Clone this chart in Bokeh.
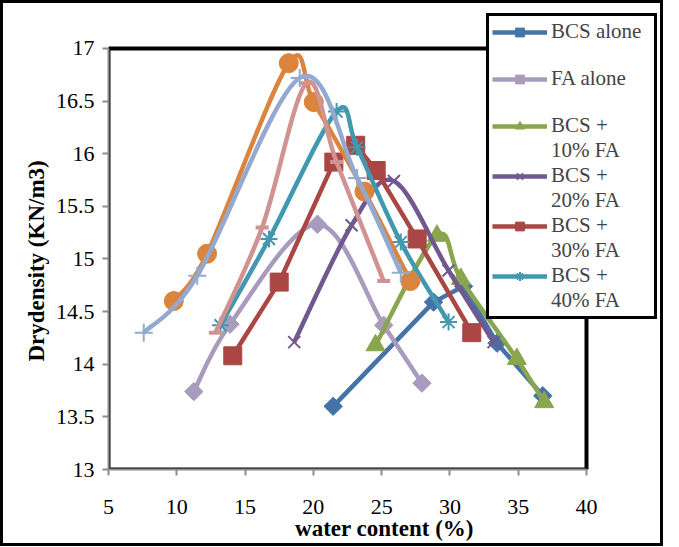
import numpy as np
from bokeh.plotting import figure
from bokeh.models import Range1d, FixedTicker, NumeralTickFormatter, Legend, LegendItem, Title
from bokeh.layouts import column
from bokeh.embed import file_html
from bokeh.resources import INLINE

# ---------------- data ----------------
x_ticks = [5, 10, 15, 20, 25, 30, 35, 40]
y_ticks = [13, 13.5, 14, 14.5, 15, 15.5, 16, 16.5, 17]

bcs_alone_w = [21.45, 28.8, 31.0, 33.45, 36.8]
bcs_alone_d = [13.60, 14.59, 14.74, 14.20, 13.70]

fa_alone_w = [11.25, 13.9, 20.3, 25.15, 27.95]
fa_alone_d = [13.74, 14.38, 15.33, 14.37, 13.82]

fa10_w = [24.55, 29.05, 30.8, 34.9, 36.9]
fa10_d = [14.18, 15.22, 14.81, 14.05, 13.64]

fa20_w = [18.6, 22.8, 25.9, 29.9, 33.2]
fa20_d = [14.21, 15.32, 15.74, 14.89, 14.21]

fa30_w = [14.1, 17.5, 21.5, 23.1, 24.6, 27.6, 31.6]
fa30_d = [14.08, 14.78, 15.92, 16.08, 15.84, 15.19, 14.30]

fa40_w = [13.2, 16.75, 21.7, 23.2, 26.4, 29.9]
fa40_d = [14.37, 15.19, 16.40, 16.06, 15.16, 14.40]

s7_w = [9.78, 12.22, 18.2, 20.03, 23.74, 27.1]
s7_d = [14.60, 15.05, 16.86, 16.49, 15.64, 14.79]

s8_w = [12.83, 16.25, 19.5, 21.7, 25.15]
s8_d = [14.30, 15.30, 16.67, 15.92, 14.79]

s9_w = [7.58, 11.5, 19.0, 23.2, 26.4]
s9_d = [14.30, 14.84, 16.72, 15.77, 14.87]

legend_lines = [["BCS alone", " "], ["FA alone", " "], ["BCS +", "10% FA"],
                ["BCS +", "20% FA"], ["BCS +", "30% FA"], ["BCS +", "40% FA"]]

FONT = "Liberation Serif"

# ---------------- layout (pixels) ----------------
W, H = 657, 540
BL, BR, BT, BB = 105, 0, 7, 73          # borders around the frame
FRAME_W, FRAME_H = W - BL - BR, H - BT - BB
PLOT_W, PLOT_H = 478, 422                # pixel size of the 5..40 x 13..17 box

x0, x1 = x_ticks[0], x_ticks[-1]
y0, y1 = y_ticks[0], y_ticks[-1]
x_end = x0 + FRAME_W * (x1 - x0) / PLOT_W
y_end = y0 + FRAME_H * (y1 - y0) / PLOT_H

p = figure(width=W, height=H, x_range=Range1d(x0, x_end), y_range=Range1d(y0, y_end),
           output_backend="svg", toolbar_location=None,
           min_border_left=BL, min_border_right=BR, min_border_top=BT, min_border_bottom=BB)
p.xgrid.visible = False
p.ygrid.visible = False
p.background_fill_color = "white"
p.border_fill_color = "white"
p.outline_line_color = None

for ax, ticks in ((p.xaxis, x_ticks), (p.yaxis, y_ticks)):
    ax.ticker = FixedTicker(ticks=ticks)
    ax.bounds = (ticks[0], ticks[-1])
    ax.axis_line_color = "#8c8c8c"
    ax.axis_line_width = 2
    ax.major_tick_line_color = "#8c8c8c"
    ax.major_tick_line_width = 2
    ax.major_tick_out = 6
    ax.major_tick_in = 0
    ax.minor_tick_line_color = None
    ax.major_label_text_font = FONT
    ax.major_label_text_font_size = "22px"
    ax.major_label_text_color = "black"
    ax.axis_label_text_font = FONT
    ax.axis_label_text_font_size = "23px"
    ax.axis_label_text_font_style = "bold"
    ax.axis_label_text_color = "black"

p.yaxis.formatter = NumeralTickFormatter(format="0.[0]")
p.xaxis.axis_label = "water content (%)"
p.xaxis.major_label_standoff = 24
p.xaxis.axis_label_standoff = -1
p.yaxis.major_label_standoff = 8

ytitle = Title(text="Drydensity (KN/m3)", align="left", offset=108, standoff=8,
               text_font=FONT, text_font_size="23px", text_font_style="bold",
               text_color="black")
p.add_layout(ytitle, "left")

# plot-area border (Excel plot area)
p.quad(left=[x0], right=[x1], bottom=[y0], top=[y1], fill_color=None,
       line_color="black", line_width=4)


def smooth(xs, ys):
    xs = np.asarray(xs, float)
    ys = np.asarray(ys, float)
    n = len(xs)
    px = np.concatenate([[xs[0]], xs, [xs[-1]]])
    py = np.concatenate([[ys[0]], ys, [ys[-1]]])
    return dict(
        x0=xs[:-1], y0=ys[:-1], x1=xs[1:], y1=ys[1:],
        cx0=xs[:-1] + (px[2:n + 1] - px[0:n - 1]) / 6,
        cy0=ys[:-1] + (py[2:n + 1] - py[0:n - 1]) / 6,
        cx1=xs[1:] - (px[3:n + 2] - px[1:n]) / 6,
        cy1=ys[1:] - (py[3:n + 2] - py[1:n]) / 6,
    )


LW = 4.5
series = [
    (bcs_alone_w, bcs_alone_d, "#4572A7", False, dict(marker="square", angle=np.pi / 4, size=13)),
    (fa_alone_w, fa_alone_d, "#A99BBD", True, dict(marker="square", angle=np.pi / 4, size=13)),
    (fa10_w, fa10_d, "#89A54E", True, dict(marker="triangle", size=19)),
    (fa20_w, fa20_d, "#71588F", True, dict(marker="x", size=17, line_width=2)),
    (fa30_w, fa30_d, "#AA4643", False, dict(marker="square", size=18)),
    (fa40_w, fa40_d, "#4198AF", True, dict(marker="asterisk", size=17, line_width=2)),
    (s7_w, s7_d, "#DB843D", True, dict(marker="circle", size=19)),
    (s8_w, s8_d, "#D19392", True, dict(marker="dash", size=13, line_width=4)),
    (s9_w, s9_d, "#93A9CF", True, dict(marker="cross", size=18, line_width=2)),
]

legend_renderers = []
for xs, ys, c, sm, mk in series:
    if sm:
        line_r = p.bezier(line_color=c, line_width=LW, **smooth(xs, ys))
    else:
        line_r = p.line(xs, ys, line_color=c, line_width=LW)
    sc_r = p.scatter(xs, ys, fill_color=c, line_color=c, **mk)
    legend_renderers.append([line_r, sc_r])

blank = p.line(x=[], y=[], line_alpha=0)
items = []
for (first, second), rs in zip(legend_lines, legend_renderers):
    items.append(LegendItem(label=first, renderers=rs))
    items.append(LegendItem(label=second, renderers=[blank]))

legend = Legend(items=items, location="top_right", margin=3,
                border_line_color="black", border_line_width=3, border_line_alpha=1,
                background_fill_color="white", background_fill_alpha=1,
                label_text_font=FONT, label_text_font_size="21px",
                glyph_width=55, glyph_height=22, label_height=20, label_width=100,
                label_standoff=4, spacing=0, padding=3)
p.add_layout(legend)

layout = column(p, styles={"border": "3px solid black"})
open("out.html", "w").write(file_html(layout, INLINE))
